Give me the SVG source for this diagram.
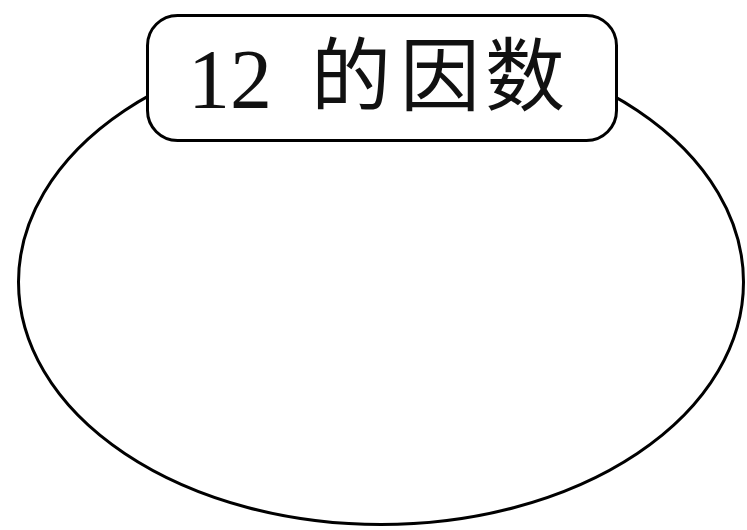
<svg xmlns="http://www.w3.org/2000/svg" width="747" height="530" viewBox="0 0 747 530">
<style>
.ln{fill:#fff;stroke:#000;stroke-width:3}
.t{font-family:"Liberation Serif","Noto Sans CJK SC",serif;font-size:84px;fill:#111}
.c{font-family:"Noto Sans CJK SC",sans-serif;font-size:80px;fill:#111}
</style>
<rect width="747" height="530" fill="#fff"/>
<g id="ellipse"><ellipse class="ln" cx="381" cy="282" rx="362.5" ry="242.5"/></g>
<g id="title">
<rect class="ln" x="147.5" y="15.5" width="469" height="125" rx="30" ry="30"/>
<text class="t" x="188" y="108">12</text>
<text class="c" x="311" y="104">的</text>
<text class="c" x="400" y="104">因</text>
<text class="c" x="485" y="104">数</text>
</g>
</svg>
